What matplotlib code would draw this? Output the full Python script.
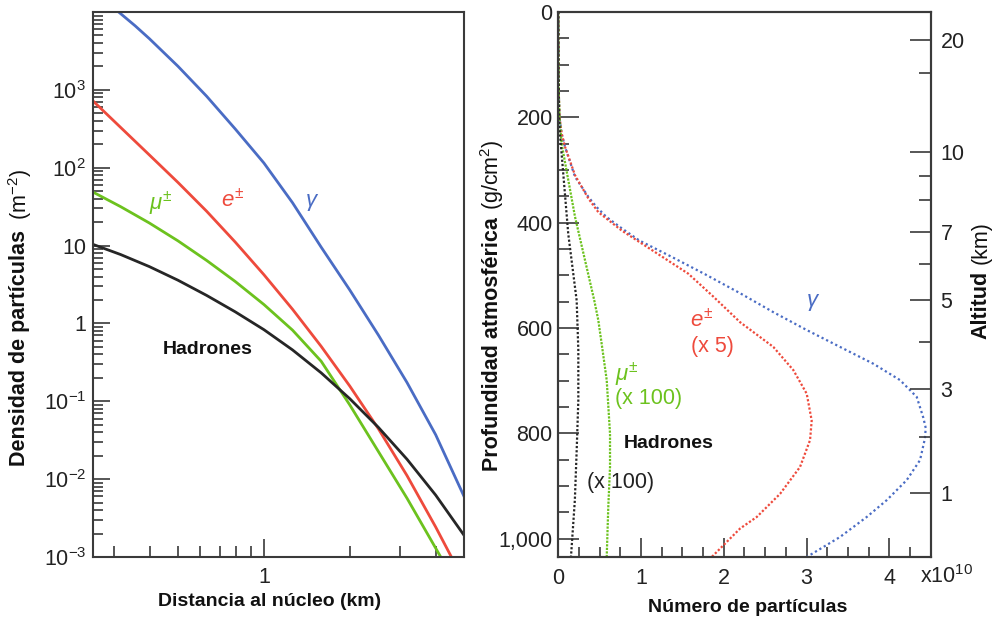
import matplotlib.pyplot as plt
from matplotlib.ticker import LogLocator, FixedLocator, FixedFormatter, NullFormatter, MultipleLocator, FuncFormatter

plt.rcParams['font.family'] = ['Liberation Sans', 'DejaVu Sans']
plt.rcParams['mathtext.fontset'] = 'custom'
plt.rcParams['mathtext.rm'] = 'Liberation Sans'
plt.rcParams['mathtext.it'] = 'Liberation Sans:italic'
plt.rcParams['mathtext.bf'] = 'Liberation Sans:bold'

# left: lateral density (m^-2) vs distance to core (km)
gamma_r = [0.311, 0.355, 0.398, 0.501, 0.631, 0.794, 1.0, 1.259, 1.585, 1.995, 2.512, 3.162, 3.981, 5.012]
gamma_rho = [1.0e4, 6650, 4550, 2010, 828, 315, 115, 35.5, 9.55, 2.69, 0.708, 0.174, 0.0372, 5.9e-3]
elec_r = [0.251, 0.316, 0.398, 0.501, 0.631, 0.794, 1.0, 1.259, 1.585, 1.995, 2.512, 3.162, 3.981, 4.50]
elec_rho = [741, 329, 146, 64.7, 27.6, 11.1, 4.23, 1.52, 0.508, 0.157, 0.0443, 0.0111, 2.43e-3, 1.03e-3]
muon_r = [0.251, 0.316, 0.398, 0.501, 0.631, 0.794, 1.0, 1.259, 1.585, 1.995, 2.512, 3.162, 3.981, 4.207]
muon_rho = [49.4, 31.6, 19.5, 11.5, 6.44, 3.46, 1.75, 0.82, 0.327, 0.0899, 0.0226, 5.68e-3, 1.30e-3, 9.1e-4]
hadr_r = [0.251, 0.316, 0.398, 0.501, 0.631, 0.794, 1.0, 1.259, 1.585, 1.995, 2.512, 3.162, 3.981, 5.012]
hadr_rho = [10.47, 7.67, 5.37, 3.59, 2.29, 1.41, 0.832, 0.457, 0.232, 0.108, 0.0462, 0.0180, 6.24e-3, 1.88e-3]

# right: longitudinal profile, number of particles (x1e10) vs depth (g/cm2)
gamma_d = [0, 150, 200, 231, 256, 313, 351, 370, 389, 410, 434, 465, 498, 534, 570, 604, 636, 668,
           699, 731, 770, 790, 810, 851, 889, 927, 959, 997, 1035]
gamma_n = [0, 0.005, 0.015, 0.04, 0.081, 0.202, 0.363, 0.46, 0.58, 0.76, 0.98, 1.370, 1.773, 2.196,
           2.598, 3.002, 3.404, 3.807, 4.129, 4.331, 4.41, 4.44, 4.43, 4.371, 4.210, 3.969,
           3.727, 3.404, 3.002]
elec_d = [0, 150, 200, 231, 256, 310, 354, 380, 415, 456, 497, 540, 589, 636, 680, 725, 776,
          813, 864, 915, 959, 981, 1035]
elec_n = [0, 0.005, 0.015, 0.041, 0.081, 0.202, 0.363, 0.483, 0.766, 1.169, 1.571, 1.870,
          2.196, 2.598, 2.840, 3.002, 3.062, 3.042, 2.921, 2.680, 2.398, 2.196, 1.854]
muon_d = [0, 100, 150, 200, 250, 389, 548, 585, 630, 699, 801, 864, 940, 1035]
muon_n = [0, 0.002, 0.005, 0.015, 0.04, 0.202, 0.435, 0.483, 0.524, 0.585, 0.625, 0.625, 0.604, 0.585]
hadr_d = [0, 100, 150, 200, 231, 421, 548, 642, 737, 833, 927, 1035]
hadr_n = [0, 0.002, 0.005, 0.01, 0.02, 0.12, 0.222, 0.242, 0.242, 0.222, 0.2, 0.153]

# altitude axis (km) and matching depth (g/cm2)
alt_major = ['20', '10', '7', '5', '3', '1']
alt_major_d = [52.4, 265.9, 417.8, 547.5, 715.2, 913.4]
alt_minor_d = [115.8, 312, 357.6, 477.8, 626.7, 807]

c_blue = '#4a6cc4'
c_red = '#ee4a3c'
c_green = '#6cc21e'
c_black = '#262626'
c_spine = '#3a3a3a'
W, H = 993, 624
tsize = 15.5
lsize = 15.5

fig = plt.figure(figsize=(9.93, 6.24), dpi=100)

def px(x, y):
    return x / W, 1 - y / H

# ---------- left panel ----------
ax = fig.add_axes([93 / W, 1 - 557 / H, 371 / W, 545 / H])
ax.set_xscale('log')
ax.set_yscale('log')
ax.plot(gamma_r, gamma_rho, color=c_blue, lw=2)
ax.plot(elec_r, elec_rho, color=c_red, lw=2)
ax.plot(muon_r, muon_rho, color=c_green, lw=2)
ax.plot(hadr_r, hadr_rho, color=c_black, lw=2)
ax.set_xlim(0.253, 5.0)
ax.set_ylim(1e-3, 1e4)

ax.xaxis.set_major_locator(FixedLocator([1]))
ax.xaxis.set_major_formatter(FixedFormatter(['1']))
ax.xaxis.set_minor_locator(LogLocator(base=10, subs=range(2, 10)))
ax.xaxis.set_minor_formatter(NullFormatter())
ydec = [1e-3, 1e-2, 1e-1, 1, 10, 100, 1000]
ax.yaxis.set_major_locator(FixedLocator(ydec))
ax.yaxis.set_major_formatter(FixedFormatter(['$10^{-3}$', '$10^{-2}$', '$10^{-1}$', '1', '10',
                                              '$10^{2}$', '$10^{3}$']))
ax.yaxis.set_minor_locator(LogLocator(base=10, subs=range(2, 10), numticks=20))
ax.yaxis.set_minor_formatter(NullFormatter())
ax.tick_params(which='both', direction='in', top=False, right=False, colors=c_spine,
               labelcolor='#222222', labelsize=tsize, width=1.2)
ax.tick_params(axis='y', which='major', length=12, pad=5)
ax.tick_params(axis='y', which='minor', length=7)
ax.tick_params(axis='x', which='major', length=13, pad=7)
ax.tick_params(axis='x', which='minor', length=8)
for s in ax.spines.values():
    s.set_color(c_spine)
    s.set_linewidth(1.5)

ax.text(0.435, 34.7, r'$\mu^{\pm}$', color=c_green, fontsize=16, ha='center', va='center')
ax.text(0.778, 37.9, r'$e^{\pm}$', color=c_red, fontsize=16, ha='center', va='center')
ax.text(1.476, 36, r'$\gamma$', color=c_blue, fontsize=16, ha='center', va='center')
ax.text(0.636, 0.46, 'Hadrones', color='#111111', fontsize=14, fontweight='bold',
        ha='center', va='center')

t1 = fig.text(*px(20, 466), 'Densidad de partículas', rotation=90, fontsize=lsize,
              fontweight='bold', ha='center', va='bottom', color='#111111')
ax.annotate('(m$^{-2}$)', xy=(0.5, 1), xycoords=t1, xytext=(0, 7), textcoords='offset points',
            rotation=90, fontsize=lsize, ha='center', va='bottom', color='#111111')
fig.text(*px(270, 602), 'Distancia al núcleo (km)', fontsize=14, fontweight='bold',
         ha='center', va='center', color='#111111')

# ---------- right panel ----------
ar = fig.add_axes([558.3 / W, 1 - 557 / H, 372.4 / W, 545 / H])
ar.plot(gamma_n, gamma_d, color=c_blue, lw=1.6, ls=(0, (1, 1.3)))
ar.plot(elec_n, elec_d, color=c_red, lw=1.6, ls=(0, (1, 0.9)))
ar.plot(muon_n, muon_d, color=c_green, lw=1.6, ls=(0, (1, 0.6)))
ar.plot(hadr_n, hadr_d, color=c_black, lw=1.6, ls=(0, (1, 0.9)))
ar.set_xlim(0, 4.5)
ar.set_ylim(1035, 0)
ar.xaxis.set_major_locator(MultipleLocator(1))
ar.xaxis.set_minor_locator(MultipleLocator(0.25))
ar.yaxis.set_major_locator(MultipleLocator(200))
ar.yaxis.set_minor_locator(MultipleLocator(50))
ar.yaxis.set_major_formatter(FuncFormatter(lambda v, p: '{:,.0f}'.format(v)))
ar.tick_params(which='both', direction='in', top=False, right=False, colors=c_spine,
               labelcolor='#222222', labelsize=tsize, width=1.2)
ar.tick_params(axis='y', which='major', length=15, pad=4)
ar.tick_params(axis='y', which='minor', length=8)
ar.tick_params(axis='x', which='major', length=14, pad=8)
ar.tick_params(axis='x', which='minor', length=7)
for s in ar.spines.values():
    s.set_color(c_spine)
    s.set_linewidth(1.5)

a2 = ar.twinx()
a2.set_ylim(1035, 0)
a2.yaxis.set_major_locator(FixedLocator(alt_major_d))
a2.yaxis.set_major_formatter(FixedFormatter(alt_major))
a2.yaxis.set_minor_locator(FixedLocator(alt_minor_d))
a2.yaxis.set_minor_formatter(NullFormatter())
a2.tick_params(which='both', direction='in', colors=c_spine, labelcolor='#222222',
               labelsize=tsize, width=1.2)
a2.tick_params(which='major', length=15, pad=7)
a2.tick_params(which='minor', length=9)
for s in a2.spines.values():
    s.set_color(c_spine)
    s.set_linewidth(1.5)

ar.text(3.08, 551, r'$\gamma$', color=c_blue, fontsize=16, ha='center', va='center')
ar.text(1.73, 585, r'$e^{\pm}$', color=c_red, fontsize=16, ha='center', va='center')
ar.text(1.86, 636, '(x 5)', color=c_red, fontsize=15.5, ha='center', va='center')
ar.text(0.83, 690, r'$\mu^{\pm}$', color=c_green, fontsize=16, ha='center', va='center')
ar.text(1.09, 734, '(x 100)', color=c_green, fontsize=15.5, ha='center', va='center')
ar.text(1.33, 820, 'Hadrones', color='#111111', fontsize=14, fontweight='bold',
        ha='center', va='center')
ar.text(0.75, 893, '(x 100)', color='#222222', fontsize=15.5, ha='center', va='center')
fig.text(*px(947, 577), r'x10$^{10}$', fontsize=tsize, ha='center', va='center', color='#222222')

t2 = fig.text(*px(492, 471), 'Profundidad atmosférica', rotation=90, fontsize=lsize,
              fontweight='bold', ha='center', va='bottom', color='#111111')
ar.annotate('(g/cm$^{2}$)', xy=(0.5, 1), xycoords=t2, xytext=(0, 5), textcoords='offset points',
            rotation=90, fontsize=lsize, ha='center', va='bottom', color='#111111')
t3 = fig.text(*px(981, 339), 'Altitud', rotation=90, fontsize=lsize,
              fontweight='bold', ha='center', va='bottom', color='#111111')
ar.annotate('(km)', xy=(0.5, 1), xycoords=t3, xytext=(0, 5), textcoords='offset points',
            rotation=90, fontsize=lsize, ha='center', va='bottom', color='#111111')
fig.text(*px(748, 608), 'Número de partículas', fontsize=14, fontweight='bold',
         ha='center', va='center', color='#111111')

fig.savefig('out.png', dpi=100)
